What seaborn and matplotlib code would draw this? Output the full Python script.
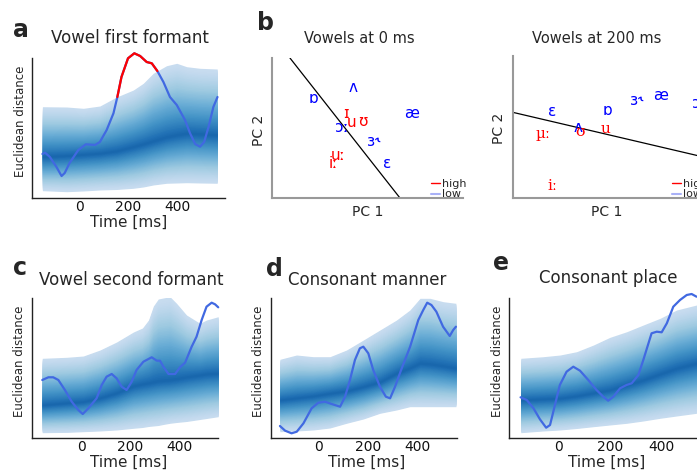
import numpy as np
import pandas as pd
import matplotlib
matplotlib.use("Agg")
import matplotlib.pyplot as plt
import seaborn as sns

sns.set_style("white")
plt.rcParams["font.family"] = ["DejaVu Sans"]

# ---------------- data ----------------
# panel a: vowel first formant
a_line_t = [-155, -144, -124, -97, -76, -63, -43, -7, 24, 62, 82, 110, 138, 154, 171, 198, 224,
            248, 275, 296, 319, 344, 371, 399, 433, 454, 475, 495, 512, 530, 550, 567]
a_line_v = [44, 45.3, 41, 31, 22, 25, 35, 48, 53.7, 53, 56, 68, 84.7, 101, 121, 139.7, 144.7,
            142, 136, 134.7, 127, 116, 101, 93, 78, 64.7, 54, 51.3, 56, 71, 91, 101]
a_sig = (154, 319)
a_band_t = [-155, -55, 14, 82, 151, 220, 261, 302, 357, 399, 440, 495, 566]
a_band_hi = [91.3, 91, 89.7, 92, 101, 108, 114.7, 124.7, 132.3, 134.7, 131.3, 129.7, 129]
a_band_lo = [7.3, 6.3, 7, 8, 8.5, 9.7, 11, 13, 14.7, 15, 15.3, 15, 14.7]
a_band_mid = [41.3, 42.3, 43.5, 44.7, 47, 51.3, 54, 57, 61, 63, 64.7, 64, 63]

# panel c: vowel second formant
c_line_t = [-161, -136, -116, -95, -68, -40, -13, 5, 28, 62, 83, 103, 124, 144, 165, 185, 206,
            226, 254, 288, 309, 322, 336, 357, 384, 404, 425, 452, 472, 493, 513, 534, 548, 561]
c_line_v = [58, 60.7, 60.7, 58, 48, 36.3, 28, 24, 29.7, 39.7, 53, 61.3, 64, 59.7, 51.3, 48, 56.3,
            68, 76.3, 80.7, 77.3, 77.3, 71.3, 64, 64, 70.7, 75.3, 91.3, 101.3, 118, 131.3, 135.3, 133.7, 130.7]
c_band_t = [-161, -61, 7.5, 76, 144, 213, 250, 275, 295, 315, 335, 363, 390, 431, 486, 513, 561]
c_band_hi = [79.7, 80.7, 82, 88, 96, 106, 110, 118, 132, 139, 140, 141.3, 134.7, 123, 114.7, 118, 121.3]
c_band_lo = [5.3, 5.6, 6.3, 7, 8, 9.7, 10.5, 11.5, 12, 12.5, 13.5, 14.7, 15.5, 16.5, 18.5, 19.5, 21.3]
c_band_mid = [33, 35, 36.3, 40, 45, 52, 54, 55, 56, 57, 57.5, 58, 59, 61, 63, 64, 64.7]

# panel d: consonant manner
d_line_t = [-155, -134, -108, -87, -60, -27, 0, 27, 54, 88, 108, 128, 148, 168, 182, 202, 222,
            249, 273, 290, 310, 337, 371, 404, 424, 440, 457, 477, 504, 531, 545, 556]
d_line_v = [12, 7.3, 4.7, 6.3, 14.7, 29.7, 35.3, 36.3, 34, 31.3, 41.3, 58, 78, 89.7, 91.3, 84.7, 68,
            51.3, 41.3, 39.7, 51.3, 69.7, 91.3, 118, 128, 135.3, 133, 126.3, 111.3, 102, 108, 111.3]
d_band_t = [-155, -88, -20, 47, 114, 182, 249, 316, 370, 411, 451, 505, 556]
d_band_hi = [78.7, 83, 81.3, 81.3, 88, 98, 108, 118, 128, 139.7, 139.7, 136.3, 134.7]
d_band_lo = [6.3, 7, 8, 10, 14.7, 19, 24.7, 28, 31.3, 31.3, 31.3, 31.3, 31.3]
d_band_mid = [38, 40, 42, 44.7, 47, 51.3, 56, 64.7, 70, 74.7, 74, 72, 69.7]

# panel e: consonant place
e_line_t = [-146, -122, -96, -71, -47, -32, -13, 6, 32, 58, 84, 116, 148, 174, 193, 213, 239,
            264, 284, 310, 329, 349, 361, 381, 400, 420, 445, 471, 497, 516, 535]
e_line_v = [40.7, 38, 29.7, 18.7, 10.3, 13, 33, 53, 66.3, 71.3, 67.3, 58, 48, 41.3, 37.3, 41.3, 49.7,
            53, 54.7, 63, 78, 94.7, 104.7, 106.3, 105.7, 114.7, 131.3, 138, 143, 144, 141.3]
e_band_t = [-145, -58, 7, 71, 136, 200, 265, 329, 394, 458, 535]
e_band_hi = [79.7, 81.3, 83, 86.3, 93, 100.7, 106.3, 113, 119.7, 128, 133]
e_band_lo = [5.3, 7, 8, 9.5, 11.3, 13, 14.7, 17, 19.7, 22, 24.7]
e_band_mid = [38, 39, 39.7, 42, 45, 48, 53, 58, 64, 69.7, 74.7]

# panel b: vowel projections
b0_labels = ["ɒ", "ʌ", "ɪ", "u", "ʊ", "ɔː", "ɜ˞", "æ", "uː", "iː", "ɛ"]
b0_pc1 = [0.215, 0.424, 0.387, 0.419, 0.476, 0.366, 0.529, 0.733, 0.346, 0.319, 0.602]
b0_pc2 = [0.714, 0.786, 0.607, 0.536, 0.543, 0.507, 0.407, 0.600, 0.307, 0.243, 0.243]
b0_group = ["low", "low", "high", "high", "high", "low", "low", "low", "high", "high", "low"]
b0_bound_x = [0.094, 0.670]
b0_bound_y = [1.0, 0.0]

b2_labels = ["ɛ", "ɒ", "ɜ˞", "æ", "ɔː", "ʌ", "ʊ", "u", "µː", "iː"]
b2_pc1 = [0.204, 0.497, 0.644, 0.770, 0.975, 0.340, 0.351, 0.487, 0.157, 0.204]
b2_pc2 = [0.607, 0.614, 0.686, 0.721, 0.664, 0.50, 0.464, 0.486, 0.45, 0.086]
b2_group = ["low", "low", "low", "low", "low", "low", "high", "high", "high", "high"]
b2_bound_x = [0.0, 1.0]
b2_bound_y = [0.603, 0.288]

# ---------------- layout helpers ----------------
W, H = 697, 474
fig = plt.figure(figsize=(W / 100, H / 100), dpi=100)


def add_axes(l, r, t, b):
    return fig.add_axes([l / W, (H - b) / H, (r - l) / W, (b - t) / H])


LINE_BLUE = "#4169e1"
cmap = plt.get_cmap("Blues")


def band(ax, t, lo, mid, hi):
    t, lo, mid, hi = map(np.asarray, (t, lo, mid, hi))
    n = 50
    for i in range(n):
        f = 1 - i / n
        lower = mid - f * (mid - lo)
        upper = mid + f * (hi - mid)
        col = cmap(0.24 + 0.56 * (1 - f) ** 1.25)
        ax.fill_between(t, lower, upper, color=col, lw=0)


def time_panel(geom, xmap, line_t, line_v, bt, blo, bmid, bhi, title, title_xy, ylab_xy, xlab_xy):
    l, r, t, b = geom
    ax = add_axes(l, r, t, b)
    p0, scale = xmap
    ax.set_xlim((l - p0) * scale, (r - p0) * scale)
    ax.set_ylim(0, 140)
    band(ax, bt, blo, bmid, bhi)
    df = pd.DataFrame({"t": line_t, "v": line_v})
    sns.lineplot(data=df, x="t", y="v", ax=ax, color=LINE_BLUE, lw=1.6, legend=False)
    ax.lines[-1].set_clip_on(False)
    sns.despine(ax=ax)
    for s in ("left", "bottom"):
        ax.spines[s].set_color("#222222")
        ax.spines[s].set_linewidth(1.0)
    ax.set_xticks([0, 200, 400])
    ax.set_yticks([])
    ax.tick_params(axis="x", length=0, pad=1.5, labelsize=10, colors="#111111")
    w, h = r - l, b - t
    ax.set_title(title, fontsize=12, x=(title_xy[0] - l) / w, y=1 + (t - title_xy[1]) / h, pad=0)
    ax.set_ylabel("Euclidean distance", fontsize=8.5, va="center")
    ax.yaxis.set_label_coords((ylab_xy[0] - l) / w, (b - ylab_xy[1]) / h)
    ax.set_xlabel("Time [ms]", fontsize=11, va="center")
    ax.xaxis.set_label_coords((xlab_xy[0] - l) / w, (b - xlab_xy[1]) / h)
    return ax


# panel a
ax_a = time_panel((32, 225, 58, 198), (80, 4.124), a_line_t, a_line_v,
                  a_band_t, a_band_lo, a_band_mid, a_band_hi,
                  "Vowel first formant", (130, 43), (20.5, 121), (129, 222))
sig = pd.DataFrame({"t": a_line_t, "v": a_line_v})
sig = sig[(sig.t >= a_sig[0]) & (sig.t <= a_sig[1])]
sns.lineplot(data=sig, x="t", y="v", ax=ax_a, color="red", lw=1.6, legend=False)
ax_a.lines[-1].set_clip_on(False)

# panel c
time_panel((32, 218, 298, 438), (81.5, 4.103), c_line_t, c_line_v,
           c_band_t, c_band_lo, c_band_mid, c_band_hi,
           "Vowel second formant", (131, 285), (20, 361), (129, 462))
# panel d
time_panel((271, 457, 298, 438), (318.3, 4.04), d_line_t, d_line_v,
           d_band_t, d_band_lo, d_band_mid, d_band_hi,
           "Consonant manner", (367.5, 285), (258, 361), (367, 462))
# panel e
time_panel((509, 720, 298, 438), (558.3, 3.87), e_line_t, e_line_v,
           e_band_t, e_band_lo, e_band_mid, e_band_hi,
           "Consonant place", (608, 283), (498, 361), (607, 462))

# panel b
COL = {"high": "red", "low": "blue"}


def vowel_panel(geom, labels, pc1, pc2, group, bx, by, title, title_xy, serif_high=False):
    l, r, t, b = geom
    ax = add_axes(l, r, t, b)
    ax.set_xlim(0, 1)
    ax.set_ylim(0, 1)
    w, h = r - l, b - t
    sns.lineplot(x=bx, y=by, ax=ax, color="black", lw=0.9, legend=False)
    for lab, x, y, g in zip(labels, pc1, pc2, group):
        fam = ["DejaVu Serif"] if (serif_high and g == "high") else ["DejaVu Sans"]
        ax.text(x, y, lab, color=COL[g], fontsize=11, ha="center", va="center", family=fam)
    ax.plot([], [], color="red", lw=1, label="high")
    ax.plot([], [], color="#a9b1f7", lw=1.5, label="low")
    ax.legend(loc="lower right", bbox_to_anchor=(1.02, -0.01), frameon=False, fontsize=8,
              handlelength=0.8, handletextpad=0.2, labelspacing=0.05, borderpad=0, borderaxespad=0)
    sns.despine(ax=ax)
    for s in ("left", "bottom"):
        ax.spines[s].set_color("#999999")
        ax.spines[s].set_linewidth(1.5)
    ax.set_xticks([])
    ax.set_yticks([])
    ax.set_title(title, fontsize=10.5, x=(title_xy[0] - l) / w, y=1 + (t - title_xy[1]) / h, pad=0)
    ax.set_xlabel("PC 1", fontsize=10, va="center")
    ax.set_ylabel("PC 2", fontsize=10, va="center")
    return ax


ax_b0 = vowel_panel((272, 463, 58, 198), b0_labels, b0_pc1, b0_pc2, b0_group, b0_bound_x, b0_bound_y,
                    "Vowels at 0 ms", (359, 43))
ax_b0.xaxis.set_label_coords((368 - 272) / 191, (198 - 212) / 140)
ax_b0.yaxis.set_label_coords((259 - 272) / 191, (198 - 130) / 140)

ax_b2 = vowel_panel((513, 704, 56, 198), b2_labels, b2_pc1, b2_pc2, b2_group, b2_bound_x, b2_bound_y,
                    "Vowels at 200 ms", (597, 43), serif_high=True)
ax_b2.xaxis.set_label_coords((607 - 513) / 191, (198 - 212) / 142)
ax_b2.yaxis.set_label_coords((499 - 513) / 191, (198 - 128) / 142)

# panel letters
for letter, x, y in [("a", 13, 37), ("b", 257, 30), ("c", 13, 275), ("d", 266, 276), ("e", 493, 270)]:
    fig.text(x / W, 1 - y / H, letter, fontsize=17, fontweight="bold", ha="left", va="baseline")

fig.savefig("out.png", dpi=100)
